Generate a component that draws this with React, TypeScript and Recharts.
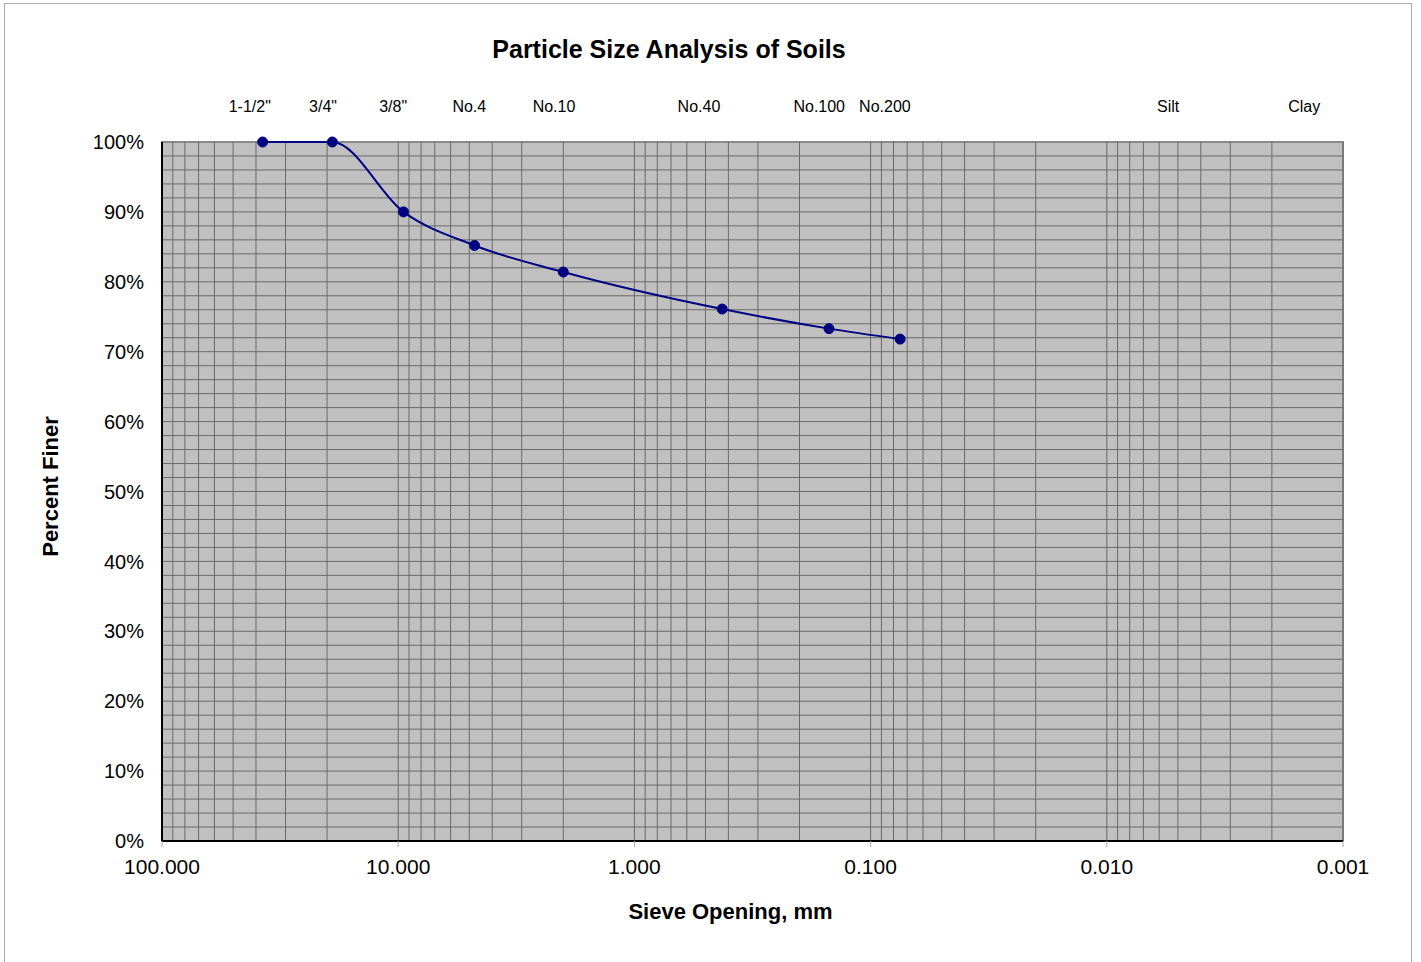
import React from 'react';
import { LineChart, Line, XAxis, YAxis, ReferenceLine, ReferenceArea, Label } from 'recharts';

// Sieve data
const sieveNames = ['1-1/2"', '3/4"', '3/8"', 'No.4', 'No.10', 'No.40', 'No.100', 'No.200'];
const sieveOpeningsMm = [37.5, 19.0, 9.5, 4.75, 2.0, 0.425, 0.15, 0.075];
const percentFiner = [100, 100, 90.0, 85.2, 81.4, 76.1, 73.3, 71.8];

// Labels along the top of the chart and where (in mm) they sit
const topLabels = ['1-1/2"', '3/4"', '3/8"', 'No.4', 'No.10', 'No.40', 'No.100', 'No.200', 'Silt', 'Clay'];
const topLabelPositionsMm = [42.5, 20.8, 10.5, 5.0, 2.19, 0.533, 0.165, 0.087, 0.0055, 0.00146];

// Axis ticks
const xTicks = [100, 10, 1, 0.1, 0.01, 0.001];
const yTicks = [0, 10, 20, 30, 40, 50, 60, 70, 80, 90, 100];

// Grid
const gridDecades = [0.001, 0.01, 0.1, 1, 10];
const gridMultipliers = [1, 2, 3, 4, 5, 6, 7, 8, 9];
const verticalGrid = [...gridDecades.flatMap((d) => gridMultipliers.map((m) => +(d * m).toPrecision(6))), 100];
const horizontalGrid = Array.from({ length: 49 }, (_, i) => (i + 1) * 2);

const data = sieveOpeningsMm.map((mm, i) => ({ name: sieveNames[i], mm, pct: percentFiner[i] }));

const FONT = '"Liberation Sans", Arial, sans-serif';
const GRID = '#6a6a6a';

export default function App() {
  return (
    <div style={{ position: 'absolute', left: 0, top: 0, width: 1421, height: 962, background: '#fff', fontFamily: FONT }}>
      <div
        style={{
          position: 'absolute',
          left: 4,
          top: 3,
          width: 1408,
          height: 965,
          border: '1px solid #b0b0b0',
          boxSizing: 'border-box',
        }}
      />
      <div
        style={{
          position: 'absolute',
          left: 369,
          top: 35,
          width: 600,
          textAlign: 'center',
          fontSize: 25,
          fontWeight: 600,
          color: '#000',
          fontFamily: FONT,
        }}
      >
        Particle Size Analysis of Soils
      </div>
      <div style={{ position: 'absolute', left: 0, top: 0 }}>
        <LineChart
          width={1421}
          height={962}
          data={data}
          margin={{ top: 102, right: 78, bottom: 31, left: 32 }}
        >
          <XAxis
            xAxisId="bottom"
            dataKey="mm"
            type="number"
            scale="log"
            domain={[0.001, 100]}
            reversed
            allowDataOverflow
            ticks={xTicks}
            interval={0}
            tickFormatter={(v: number) => v.toFixed(3)}
            tick={{ fontSize: 21, fill: '#000', fontFamily: FONT }}
            tickLine={{ stroke: '#aaa' }}
            tickSize={6}
            tickMargin={12}
            axisLine={{ stroke: '#000', strokeWidth: 2 }}
            height={90}
          >
            <Label
              value="Sieve Opening, mm"
              position="insideBottom"
              offset={12}
              dx={-22}
              style={{ fontSize: 22, fontWeight: 600, fill: '#000', fontFamily: FONT }}
            />
          </XAxis>
          <XAxis
            xAxisId="top"
            orientation="top"
            dataKey="mm"
            type="number"
            scale="log"
            domain={[0.001, 100]}
            reversed
            allowDataOverflow
            ticks={topLabelPositionsMm}
            interval={0}
            tickFormatter={(_v: number, i: number) => topLabels[i]}
            tick={{ fontSize: 16, fill: '#000', fontFamily: FONT }}
            tickLine={false}
            tickSize={0}
            axisLine={false}
            tickMargin={30}
            height={40}
          />
          <YAxis
            yAxisId="left"
            type="number"
            domain={[0, 100]}
            ticks={yTicks}
            interval={0}
            tickFormatter={(v: number) => `${v}%`}
            tick={{ fontSize: 20, fill: '#000', fontFamily: FONT }}
            tickLine={false}
            tickMargin={12}
            axisLine={{ stroke: '#000', strokeWidth: 2 }}
            width={130}
          >
            <Label
              value="Percent Finer"
              angle={-90}
              position="insideLeft"
              offset={18}
              dy={-5}
              style={{ fontSize: 22, fontWeight: 600, fill: '#000', fontFamily: FONT, textAnchor: 'middle' }}
            />
          </YAxis>
          <ReferenceArea
            xAxisId="bottom"
            yAxisId="left"
            x1={100}
            x2={0.001}
            y1={0}
            y2={100}
            fill="#c0c0c0"
            fillOpacity={1}
            stroke="#8a8a8a"
            strokeWidth={2}
            ifOverflow="visible"
          />
          {verticalGrid.map((v) => (
            <ReferenceLine key={`vx${v}`} xAxisId="bottom" yAxisId="left" x={v} stroke={GRID} strokeWidth={1} />
          ))}
          {horizontalGrid.map((v) => (
            <ReferenceLine key={`hy${v}`} xAxisId="bottom" yAxisId="left" y={v} stroke={GRID} strokeWidth={1} />
          ))}
          <Line
            xAxisId="bottom"
            yAxisId="left"
            dataKey="pct"
            type="monotone"
            stroke="#000080"
            strokeWidth={2}
            dot={{ r: 5, fill: '#000080', stroke: '#000080', strokeWidth: 1 }}
            isAnimationActive={false}
          />
        </LineChart>
      </div>
    </div>
  );
}
